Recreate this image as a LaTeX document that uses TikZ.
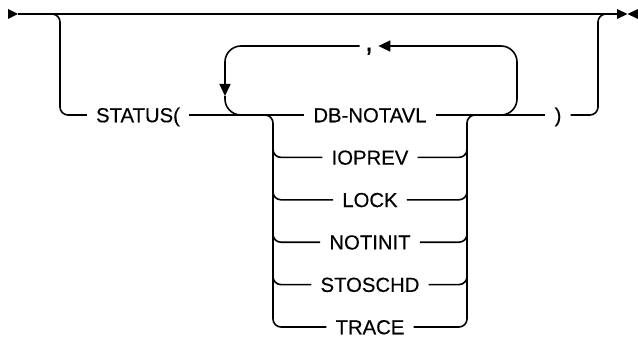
\documentclass[tikz,border=0pt]{standalone}
\usepackage{fontspec}
\setmainfont{Liberation Sans}
\newfontfamily\railfont{Liberation Sans}[FakeBold=0.35]
\usetikzlibrary{positioning, arrows.meta, calc}

\tikzset{
  rail/.style={line width=1.6pt, rounded corners=8pt},
  loop/.style={line width=1.6pt, rounded corners=16pt},
  kw/.style={inner xsep=9pt, inner ysep=0pt, text height=14.5pt, text depth=0pt,
             font=\railfont\fontsize{20.3}{22}\selectfont},
  tip/.style={-{Triangle[length=12pt, width=11pt]}}
}

\begin{document}
\begin{tikzpicture}[x=1pt, y=-1pt]
  \useasboundingbox (0,0) rectangle (638,337);
  % start and end marks
  \fill (8,9) -- (18,14) -- (8,19) -- cycle;
  \fill (617,9) -- (627.5,14) -- (617,19) -- cycle;
  \fill (638,9) -- (627.5,14) -- (638,19) -- cycle;
  \coordinate (start) at (18,14);
  \coordinate (stop) at (617,14);
  \coordinate (lv) at (273,130);
  \coordinate (rv) at (467,130);
  \draw[rail] (start) -- (stop);

  % keywords
  \node[kw] (status) at (138,115) {STATUS(};
  \node[kw] (close) at (558,115) {)};
  \node[kw, inner xsep=5pt, text height=10pt, font=\railfont\fontsize{30}{30}\selectfont]
    (comma) at (369,46) {,};
  \foreach \name/\word [count=\i from 0] in {dbn/DB-NOTAVL, ioprev/IOPREV,
      lock/LOCK, notinit/NOTINIT, stoschd/STOSCHD, trace/TRACE}
    \node[kw] (\name) at (370,115+42.4*\i) {\word};

  % optional branch
  \draw[rail] (start) -| (60,115) -- (status.west);
  \draw[rail] (status.east) -- (dbn.west);
  \draw[rail] (dbn.east) -- (close.west);
  \draw[rail] (close.east) -| (598,14) -- (stop);

  % repeat loop
  \draw[loop, tip] (490,115) -| (517,46) -- (comma.east);
  \draw[loop, tip] (comma.west) -| (225,96);
  \draw[loop] (225,96) |- (250,115);

  % choice stack
  \draw[rail] (263,115) -| (lv);
  \draw[rail] (477,115) -| (rv);
  \foreach \name in {ioprev, lock, notinit, stoschd, trace} {
    \draw[rail] (\name.west) -| (lv);
    \draw[rail] (\name.east) -| (rv);
  }
\end{tikzpicture}
\end{document}
